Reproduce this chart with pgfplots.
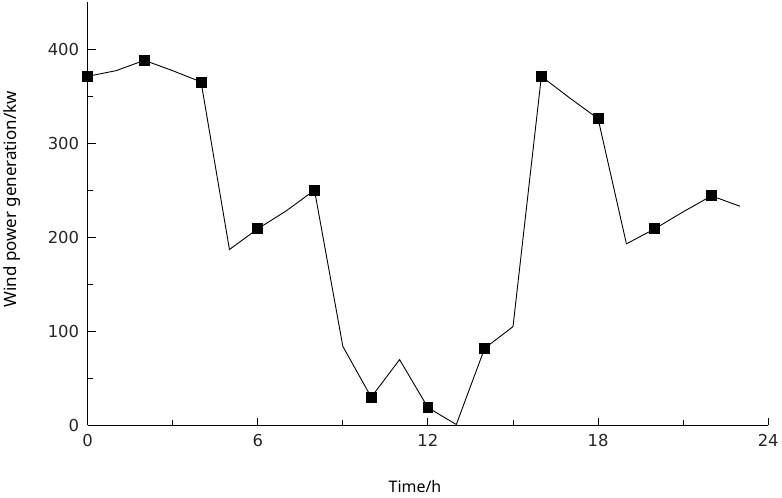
\documentclass[border=0pt]{standalone}
\usepackage{fontspec}
\setmainfont{DejaVu Sans}
\newfontfamily\labelfont{Noto Sans}
\usepackage{pgfplots}
\pgfplotsset{compat=1.18}
\begin{document}
\begin{tikzpicture}
  \begin{axis}[
    scale only axis,
    width=683pt,
    height=425pt,
    xmin=0, xmax=24,
    ymin=0, ymax=450,
    axis x line*=bottom,
    axis y line*=left,
    axis line style={-, line width=1.2pt},
    xtick={0,6,12,18,24},
    minor xtick={3,9,15,21},
    ytick={0,100,200,300,400},
    minor ytick={50,150,250,350},
    tick align=inside,
    major tick length=8pt,
    minor tick length=5pt,
    tick style={black, line width=1pt},
    ticklabel style={font=\fontsize{16.5}{18}\selectfont, text=black!85},
    xticklabel style={yshift=-5pt},
    yticklabel style={xshift=-5pt},
    /pgf/number format/assume math mode=true,
    xlabel={\labelfont\fontsize{16}{18}\selectfont Time/h},
    ylabel={\labelfont\fontsize{17}{19}\selectfont Wind power generation/kw},
    xlabel style={at={(axis description cs:0.481,-0.1435)}, anchor=center},
    ylabel style={at={(axis description cs:-0.1113,0.534)}, anchor=center, rotate=0},
    clip=false,
  ]
    \addplot[black, line width=0.9pt, mark=square*, mark size=5pt,
      mark repeat=2, mark options={solid}] coordinates {
      (0,371) (1,377) (2,388) (3,377) (4,365) (5,187) (6,209) (7,228)
      (8,250) (9,84) (10,30) (11,70) (12,19) (13,1) (14,82) (15,105)
      (16,371) (17,348) (18,326) (19,193) (20,209) (21,227) (22,244) (23,233)
    };
    % fix the page to the reference's frame
    \path (axis description cs:-0.1288,-0.1694) rectangle (axis description cs:1.0161,1.0047);
  \end{axis}
\end{tikzpicture}
\end{document}
